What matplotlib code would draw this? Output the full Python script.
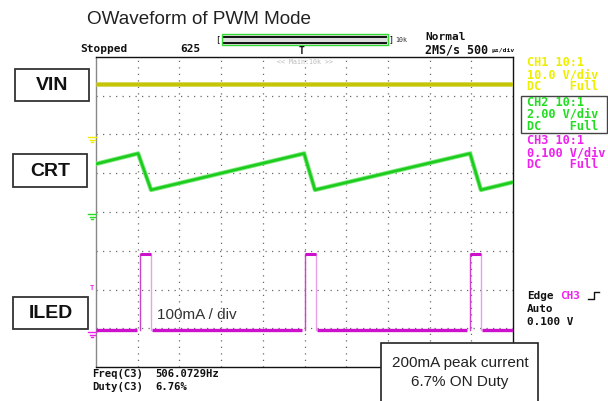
import matplotlib
matplotlib.use("Agg")
import matplotlib.pyplot as plt
from matplotlib.patches import Rectangle
import numpy as np

# ---- data (in scope divisions: x 0..10, y 0..8 from bottom) ----
vin_x = [0, 10]
vin_y = [7.30, 7.30]

crt_x = [0, 1.01, 1.32, 4.99, 5.25, 8.97, 9.23, 10]
crt_y = [5.24, 5.51, 4.57, 5.51, 4.57, 5.51, 4.57, 4.77]

iled_on = [1.06, 5.00, 8.97]
iled_off = [1.32, 5.28, 9.23]
iled_low = 0.95
iled_high = 2.91

trace_labels = ["VIN", "CRT", "ILED"]
ch_info = [["CH1 10:1", "10.0 V/div", "DC    Full"],
           ["CH2 10:1", "2.00 V/div", "DC    Full"],
           ["CH3 10:1", "0.100 V/div", "DC    Full"]]
ch_colors = ["#eeee00", "#22dd22", "#ee22ee"]

W, H = 608, 401
fig = plt.figure(figsize=(W / 100, H / 100), dpi=100)
fig.patch.set_facecolor("white")

# scope area in pixel coordinates
L, T, R, B = 96, 57, 513, 367
ax = fig.add_axes([L / W, (H - B) / H, (R - L) / W, (B - T) / H])
ax.set_xlim(0, 10)
ax.set_ylim(0, 8)
ax.set_xticks(np.arange(1, 10))
ax.set_yticks(np.arange(1, 8))
ax.tick_params(length=0, labelbottom=False, labelleft=False)
ax.grid(True, color="#6a6a6a", linewidth=0.9, linestyle=(0, (1, 4.2)))
for s in ["top", "right", "bottom"]:
    ax.spines[s].set_color("#111111")
    ax.spines[s].set_linewidth(1.0)
ax.spines["left"].set_color("#888888")
ax.spines["left"].set_linewidth(1.0)

# VIN trace
ax.plot(vin_x, vin_y, color="#d8d860", linewidth=3.6, solid_capstyle="butt", zorder=3)
ax.plot(vin_x, vin_y, color="#c4c400", linewidth=2.0, solid_capstyle="butt", zorder=3)

# CRT trace
ax.plot(crt_x, crt_y, color="#7fe87f", linewidth=3.2, zorder=3)
ax.plot(crt_x, crt_y, color="#1ccc1c", linewidth=1.9, zorder=3)

# ILED trace
mag = "#cc10cc"
starts = [0] + iled_off
ends = iled_on + [10]
for s, e in zip(starts, ends):
    s2 = s + (0.03 if s > 0 else 0)
    e2 = e - (0.07 if e < 10 else 0)
    ax.plot([s2, e2], [iled_low, iled_low], color=mag, linewidth=2.4,
            solid_capstyle="butt", zorder=3)
for on, off in zip(iled_on, iled_off):
    ax.plot([on, on], [iled_low, iled_high], color="#d040d0", linewidth=1.0, zorder=3)
    ax.plot([off, off], [iled_low, iled_high], color="#e8a0e8", linewidth=1.0, zorder=3)
    ax.plot([on, off], [iled_high, iled_high], color=mag, linewidth=2.2,
            solid_capstyle="butt", zorder=3)

# ---- overlay for texts and boxes (pixel coordinates) ----
ov = fig.add_axes([0, 0, 1, 1])
ov.set_xlim(0, W)
ov.set_ylim(H, 0)
ov.axis("off")
ov.patch.set_alpha(0)

sans = ["Liberation Sans", "DejaVu Sans"]
mono = ["DejaVu Sans Mono"]

ov.text(87, 19.5, "OWaveform of PWM Mode", fontsize=13.6, family=sans,
        color="#222222", va="center", ha="left")

# label boxes
boxes = [(15, 69, 74, 32), (13, 154, 74, 33), (13, 297, 75, 32)]
for (bx, by, bw, bh), lab in zip(boxes, trace_labels):
    ov.add_patch(Rectangle((bx, by), bw, bh, facecolor="white",
                           edgecolor="#333333", linewidth=1.3))
    ov.text(bx + bw / 2, by + bh / 2 + 1, lab, fontsize=14, fontweight="bold",
            family=sans, ha="center", va="center", color="#111111")

# scope header
ov.text(80, 49.5, "Stopped", fontsize=8, family=mono, fontweight="bold",
        va="center", color="#111111")
ov.text(180, 49.5, "625", fontsize=8, family=mono, fontweight="bold",
        va="center", color="#111111")
ov.add_patch(Rectangle((222, 34), 166, 11, facecolor="#dddddd",
                       edgecolor="#33dd33", linewidth=1.0))
ov.plot([224, 386], [37, 37], color="#111111", linewidth=1.4)
ov.plot([224, 386], [42.5, 42.5], color="#111111", linewidth=1.4)
ov.text(218, 39.5, "[", fontsize=6, family=mono, va="center", ha="center")
ov.text(391, 39.5, "]", fontsize=6, family=mono, va="center", ha="center")
ov.text(395, 39.5, "10k", fontsize=4.8, family=mono, va="center", color="#333333")
ov.text(302, 51, "T", fontsize=7, family=mono, fontweight="bold",
        va="center", ha="center", color="#111111")
ov.text(305, 62, "<< Main:10k >>", fontsize=4.8, family=mono,
        va="center", ha="center", color="#bbbbbb")
ov.text(425, 37, "Normal", fontsize=8, family=mono, fontweight="bold",
        va="center", color="#111111")
ov.text(425, 50, "2MS/s 500", fontsize=8.4, family=mono, fontweight="bold",
        va="center", color="#111111")
ov.text(492, 50.5, "\u00b5s/div", fontsize=4.6, family=mono, fontweight="bold",
        va="center", color="#111111")

# channel info
ch_y = [[63, 75, 87], [102, 114, 127], [140, 153, 165]]
for info, ys, c in zip(ch_info, ch_y, ch_colors):
    for t, y in zip(info, ys):
        ov.text(527, y, t, fontsize=8.6, family=mono, fontweight="bold",
                va="center", color=c)
ov.add_patch(Rectangle((521, 96), 86, 37, facecolor="none",
                       edgecolor="#444444", linewidth=1.0))

# trigger info
ov.text(527, 296, "Edge", fontsize=7.9, family=mono, fontweight="bold",
        va="center", color="#111111")
ov.text(560, 296, "CH3", fontsize=7.9, family=mono, fontweight="bold",
        va="center", color=ch_colors[2])
ov.plot([588, 594, 594, 599], [299, 299, 292, 292], color="#111111", linewidth=1.0)
ov.text(527, 309, "Auto", fontsize=7.9, family=mono, fontweight="bold",
        va="center", color="#111111")
ov.text(527, 322, "0.100 V", fontsize=7.9, family=mono, fontweight="bold",
        va="center", color="#111111")

# measurement
ov.text(92, 374, "Freq(C3)", fontsize=7.6, family=mono, fontweight="bold",
        va="center", color="#111111")
ov.text(155, 374, "506.0729Hz", fontsize=7.6, family=mono, fontweight="bold",
        va="center", color="#111111")
ov.text(92, 387, "Duty(C3)", fontsize=7.6, family=mono, fontweight="bold",
        va="center", color="#111111")
ov.text(155, 387, "6.76%", fontsize=7.6, family=mono, fontweight="bold",
        va="center", color="#111111")

# channel ground markers on left edge
for y, c in [(137, "#eeee00"), (214, "#22dd22"), (332, "#ee22ee")]:
    ov.plot([88, 96], [y, y], color=c, linewidth=1.0)
    ov.plot([89.5, 94.5], [y + 2.5, y + 2.5], color=c, linewidth=1.0)
    ov.plot([91, 93], [y + 5, y + 5], color=c, linewidth=1.0)
ov.text(92, 288, "T", fontsize=5, family=mono, fontweight="bold",
        va="center", ha="center", color="#ee22ee")

# annotations
ov.text(157, 315, "100mA / div", fontsize=11, family=sans, va="center",
        color="#333333")
ov.add_patch(Rectangle((381, 343), 157, 70, facecolor="white",
                       edgecolor="#222222", linewidth=1.2, zorder=5))
ov.text(460, 363, "200mA peak current", fontsize=11, family=sans,
        ha="center", va="center", color="#222222", zorder=6)
ov.text(460, 382, "6.7% ON Duty", fontsize=11, family=sans,
        ha="center", va="center", color="#222222", zorder=6)

fig.savefig("out.png", dpi=100, facecolor="white")
